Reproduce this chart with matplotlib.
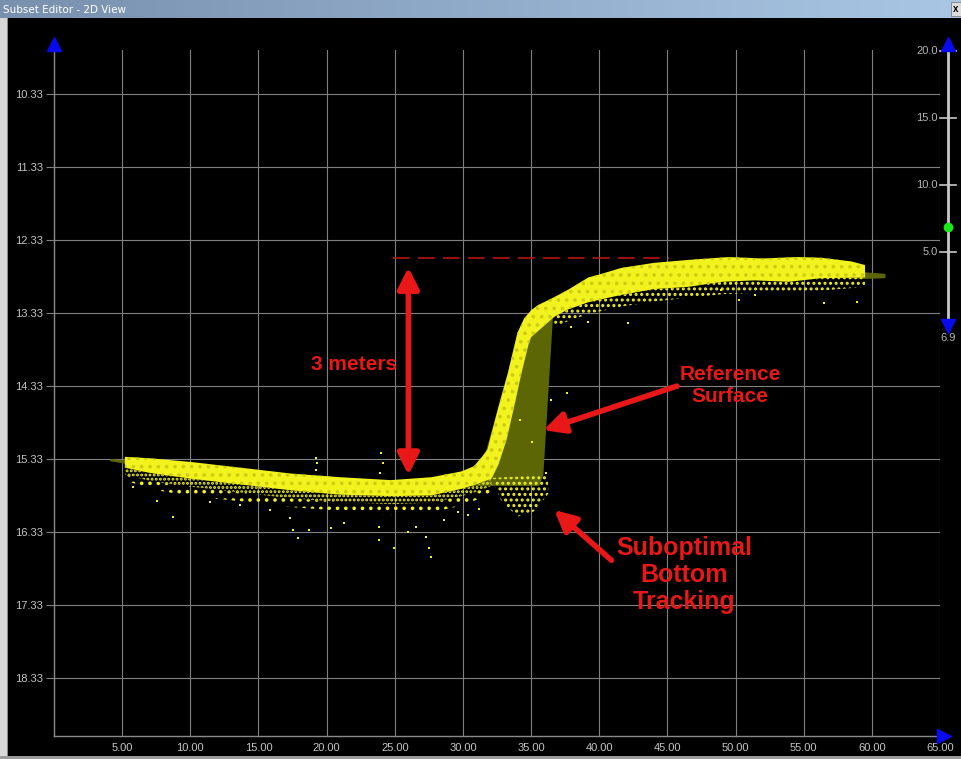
import numpy as np
import matplotlib
matplotlib.use("Agg")
import matplotlib.pyplot as plt
from matplotlib.patches import Rectangle

plt.rcParams['font.family'] = ['Liberation Sans', 'DejaVu Sans']
plt.rcParams['hatch.linewidth'] = 1.4

W, H = 961, 759

# --- soundings: dense core of the point cloud (outline, depth in m) ---
band_top_x = [5.2, 7.0, 10.0, 13.7, 17.4, 21.0, 24.7, 27.7, 29.9, 30.8, 31.4, 31.8,
              32.6, 33.3, 34.0, 34.5, 35.0, 35.5, 36.7, 37.7, 39.2, 40.0, 41.6, 44.0,
              46.5, 49.5, 52.0, 54.5, 56.3, 58.5, 59.5]
band_top_y = [15.30, 15.32, 15.37, 15.45, 15.53, 15.58, 15.62, 15.58, 15.50, 15.43, 15.30, 15.20,
              14.62, 14.15, 13.60, 13.40, 13.29, 13.22, 13.11, 13.01, 12.84, 12.80, 12.71, 12.64,
              12.60, 12.56, 12.58, 12.56, 12.57, 12.62, 12.67]
band_bot_x = [59.5, 56.3, 53.9, 51.4, 49.0, 46.5, 44.0, 41.6, 39.2, 37.7, 36.7, 35.0, 34.8,
              34.3, 33.75, 33.2, 32.6, 32.1, 30.8, 29.9, 27.7, 24.7, 21.0, 17.4, 13.7, 10.0, 7.0, 5.2]
band_bot_y = [12.84, 12.85, 12.90, 12.88, 12.90, 12.97, 13.00, 13.08, 13.18, 13.28, 13.38, 13.66, 13.77,
              14.15, 14.62, 15.07, 15.41, 15.60, 15.69, 15.74, 15.83, 15.84, 15.82, 15.76, 15.68, 15.60, 15.52, 15.45]

# sparse returns below the core
low_x = [5.2, 7.0, 10.0, 13.7, 17.4, 21.0, 24.7, 27.7, 29.9, 31.0, 32.1]
low_top = [15.45, 15.52, 15.60, 15.68, 15.76, 15.82, 15.84, 15.83, 15.74, 15.69, 15.60]
low_mid = [15.54, 15.63, 15.71, 15.79, 15.87, 15.92, 15.95, 15.93, 15.84, 15.78, 15.70]
low_bot = [15.62, 15.74, 15.84, 15.91, 15.99, 16.04, 16.10, 16.06, 15.97, 15.89, 15.78]

high_x = [36.7, 37.7, 39.2, 41.6, 44.0, 46.5, 49.0, 51.4, 53.9, 56.3, 59.5]
high_top = [13.38, 13.28, 13.18, 13.08, 13.00, 12.97, 12.90, 12.88, 12.90, 12.85, 12.84]
high_bot = [13.52, 13.44, 13.34, 13.24, 13.17, 13.12, 13.07, 13.05, 13.04, 13.02, 12.97]

toe_x = [32.1, 36.2, 36.3, 35.2, 34.0, 32.8]
toe_y = [15.59, 15.55, 15.80, 16.05, 16.12, 15.90]

# scattered outliers
out_x = [8.75, 17.35, 17.57, 17.87, 18.68, 20.29, 19.19, 19.26, 19.19, 23.97, 24.12, 23.90,
         23.82, 24.93, 25.96, 27.28, 27.50, 27.65, 23.82, 26.54, 28.60, 29.63, 15.88, 13.68,
         7.57, 5.81, 11.47, 21.25, 42.13, 50.22, 56.47, 58.90, 51.40, 37.94, 39.19, 48.97,
         36.47, 36.10, 37.60, 33.6, 34.2, 35.1, 31.2, 30.4]
out_y = [16.13, 16.14, 16.31, 16.42, 16.31, 16.28, 15.32, 15.39, 15.48, 15.25, 15.39, 15.52,
         16.44, 16.55, 16.33, 16.40, 16.55, 16.67, 16.26, 16.26, 16.17, 16.06, 16.03, 15.96,
         15.90, 15.72, 15.92, 16.21, 13.47, 13.15, 13.19, 13.18, 13.08, 13.52, 13.45, 13.01,
         14.52, 15.52, 14.43, 14.30, 14.80, 15.10, 16.02, 16.10]

# reference surface
ref_x = [4.1, 10.0, 20.0, 25.0, 29.9, 31.5, 32.6, 33.3, 34.0, 34.5, 36.6, 40.0, 45.0, 50.0,
         55.0, 59.5, 61.0, 61.0, 59.5, 55.0, 50.0, 45.0, 40.0, 37.5, 36.6, 35.9, 35.6, 32.0,
         29.9, 25.0, 20.0, 10.0, 5.4, 4.1]
ref_y = [15.33, 15.42, 15.62, 15.68, 15.58, 15.35, 14.62, 14.15, 13.60, 13.40, 13.30, 12.95,
         12.80, 12.72, 12.72, 12.77, 12.79, 12.85, 12.86, 12.82, 12.80, 12.88, 13.05, 13.22,
         13.40, 15.55, 15.70, 15.70, 15.70, 15.78, 15.72, 15.50, 15.40, 15.36]

x_ticks = [5, 10, 15, 20, 25, 30, 35, 40, 45, 50, 55, 60, 65]
y_ticks = [10.33, 11.33, 12.33, 13.33, 14.33, 15.33, 16.33, 17.33, 18.33]
slider_ticks = [20.0, 15.0, 10.0, 5.0]
slider_value = 6.9

RED = '#e81818'
YEL = '#f2f21e'
GRID = '#808080'


def fx(px):
    return px / W


def fy(py):
    return 1 - py / H


fig = plt.figure(figsize=(W / 100, H / 100), dpi=100, facecolor='black')

# window frame
tb = fig.add_axes([0, fy(18), 1, 18 / H])
grad = np.linspace(0, 1, 256)[None, :]
tb.imshow(grad, aspect='auto', cmap=matplotlib.colors.LinearSegmentedColormap.from_list(
    'tb', ['#7890ae', '#a9c7e4']), extent=[0, 1, 0, 1])
tb.set_xlim(0, 1); tb.set_ylim(0, 1); tb.axis('off')
tb.text(fx(3), 0.45, 'Subset Editor - 2D View', color='white', fontsize=7.5,
        va='center', ha='left', family=['DejaVu Sans'])
tb.add_patch(Rectangle((fx(951), 0.12), fx(10), 0.76, facecolor='#dcdcdc', edgecolor='#808080', lw=0.6))
tb.text(fx(956), 0.5, 'x', color='black', fontsize=7, ha='center', va='center', weight='bold')
fig.patches.append(Rectangle((0, 0), fx(7), fy(18), transform=fig.transFigure,
                             facecolor='#d8d8d8', edgecolor='none'))
fig.patches.append(Rectangle((fx(7), 0), fx(1), fy(18), transform=fig.transFigure,
                             facecolor='#8a8a8a', edgecolor='none'))
fig.patches.append(Rectangle((0, 0), 1, 3 / H, transform=fig.transFigure,
                             facecolor='#9a9a9a', edgecolor='none'))

# main profile view
ax = fig.add_axes([fx(54), fy(736), 886 / W, 686 / H])
ax.set_facecolor('black')
ax.set_xlim(0, 65)
ax.set_ylim(19.13, 9.72)

ax.set_xticks(x_ticks)
ax.set_xticklabels([f'{v:.2f}' for v in x_ticks])
ax.set_yticks(y_ticks)
ax.set_yticklabels([f'{v:.2f}' for v in y_ticks])
ax.tick_params(axis='x', length=0, pad=5, labelsize=8, labelcolor='#c4c4c4')
ax.tick_params(axis='y', length=6, width=0.8, color=GRID, pad=2, labelsize=8, labelcolor='#c4c4c4')
ax.grid(True, color=GRID, lw=0.8)
ax.set_axisbelow(True)
for side in ('top', 'right'):
    ax.spines[side].set_visible(False)
for side in ('left', 'bottom'):
    ax.spines[side].set_color('#8a8a8a')
    ax.spines[side].set_linewidth(1.0)

ax.plot([0], [9.64], marker='^', ms=10, color='#0a0aee', clip_on=False, zorder=6)
ax.plot([65.3], [19.13], marker='>', ms=10, color='#0a0aee', clip_on=False, zorder=6)

# reference surface, then soundings on top
ax.fill(ref_x, ref_y, color='#5c6604', lw=0, zorder=2)
ax.fill(band_top_x + band_bot_x, band_top_y + band_bot_y, color=YEL, lw=0, zorder=3)
ax.fill(band_top_x + band_bot_x, band_top_y + band_bot_y, facecolor='none',
        edgecolor='#cccc10', hatch='..', lw=0, zorder=3)
ax.fill_between(low_x, low_top, low_mid, facecolor='none', edgecolor=YEL, hatch='....', lw=0, zorder=3)
ax.fill_between(low_x, low_mid, low_bot, facecolor='none', edgecolor=YEL, hatch='..', lw=0, zorder=3)
ax.fill_between(high_x, high_top, high_bot, facecolor='none', edgecolor=YEL, hatch='...', lw=0, zorder=3)
ax.fill(toe_x, toe_y, facecolor='none', edgecolor=YEL, hatch='...', lw=0, zorder=3)
ax.scatter(out_x, out_y, s=4, marker='s', color=YEL, lw=0, zorder=3)

# annotations
ax.plot([24.9, 45.1], [12.575, 12.575], color='#b81414', lw=1.2, dashes=(10, 5), zorder=4)
ax.annotate('', xy=(26.0, 12.70), xytext=(26.0, 15.55),
            arrowprops=dict(arrowstyle='<|-|>', color=RED, lw=4, mutation_scale=32,
                            shrinkA=0, shrinkB=0), zorder=5)
ax.text(22.0, 14.04, '3 meters', color=RED, fontsize=15, weight='bold', ha='center', va='center', zorder=5)

ax.annotate('', xy=(35.9, 14.935), xytext=(45.7, 14.33),
            arrowprops=dict(arrowstyle='-|>', color=RED, lw=4, mutation_scale=32,
                            shrinkA=0, shrinkB=0), zorder=5)
ax.text(49.6, 14.32, 'Reference\nSurface', color=RED, fontsize=15, weight='bold',
        ha='center', va='center', linespacing=1.2, zorder=5)

ax.annotate('', xy=(36.7, 16.03), xytext=(40.9, 16.72),
            arrowprops=dict(arrowstyle='-|>', color=RED, lw=4, mutation_scale=32,
                            shrinkA=0, shrinkB=0), zorder=5)
ax.text(46.25, 16.92, 'Suboptimal\nBottom\nTracking', color=RED, fontsize=18, weight='bold',
        ha='center', va='center', linespacing=1.15, zorder=5)

# depth-range slider on the right
sl = fig.add_axes([fx(925), fy(319), 36 / W, 268 / H])
sl.set_xlim(0, 1)
sl.set_ylim(0, 20)
sl.axis('off')
sx = 23 / 36
sl.plot([sx, sx], [0, 20], color='#c8c8c8', lw=2, clip_on=False)
for t in slider_ticks:
    sl.plot([15 / 36, 31 / 36], [t, t], color='#c8c8c8', lw=1.2, clip_on=False)
    sl.text(13 / 36, t, f'{t:.1f}', color='#b4b4b4', fontsize=8, ha='right', va='center')
sl.plot([sx], [20.5], marker='^', ms=10, color='#0a0aee', clip_on=False)
sl.plot([sx], [-0.5], marker='v', ms=10, color='#0a0aee', clip_on=False)
sl.plot([sx], [slider_value], marker='o', ms=6, color='#18e818', clip_on=False)
sl.text(sx, -1.4, f'{slider_value:.1f}', color='#b4b4b4', fontsize=8, ha='center', va='center')

fig.savefig('out.png', dpi=100, facecolor='black')
